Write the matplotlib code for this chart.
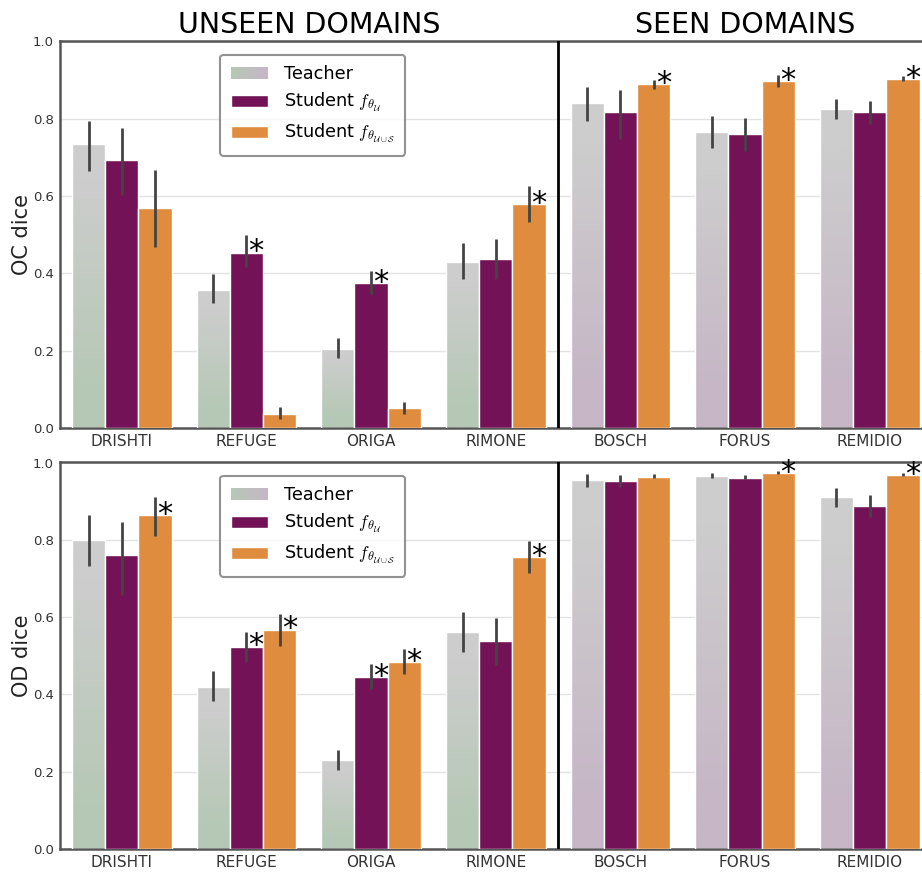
import numpy as np
import matplotlib
matplotlib.use("Agg")
import matplotlib.pyplot as plt
from matplotlib.patches import Rectangle
from matplotlib.legend_handler import HandlerBase
from matplotlib.colors import to_rgb

plt.rcParams['mathtext.fontset'] = 'cm'

categories = ["DRISHTI", "REFUGE", "ORIGA", "RIMONE", "BOSCH", "FORUS", "REMIDIO"]
n_unseen = 4
series = ["Teacher", r"Student $f_{\theta_{\mathcal{U}}}$", r"Student $f_{\theta_{\mathcal{U}\cup\mathcal{S}}}$"]

# OC dice
oc_teacher = [0.735, 0.358, 0.205, 0.430, 0.842, 0.766, 0.825]
oc_teacher_lo = [0.666, 0.323, 0.180, 0.386, 0.795, 0.725, 0.800]
oc_teacher_hi = [0.795, 0.398, 0.233, 0.479, 0.882, 0.808, 0.851]
oc_su = [0.693, 0.454, 0.374, 0.436, 0.818, 0.761, 0.817]
oc_su_lo = [0.602, 0.417, 0.346, 0.385, 0.749, 0.717, 0.787]
oc_su_hi = [0.777, 0.499, 0.406, 0.488, 0.874, 0.803, 0.846]
oc_sus = [0.568, 0.036, 0.051, 0.579, 0.889, 0.898, 0.903]
oc_sus_lo = [0.468, 0.022, 0.036, 0.534, 0.878, 0.883, 0.899]
oc_sus_hi = [0.667, 0.055, 0.068, 0.627, 0.901, 0.913, 0.912]
oc_star_su = [0, 1, 1, 0, 0, 0, 0]
oc_star_sus = [0, 0, 0, 1, 1, 1, 1]

# OD dice
od_teacher = [0.799, 0.420, 0.229, 0.561, 0.955, 0.966, 0.910]
od_teacher_lo = [0.731, 0.384, 0.204, 0.509, 0.936, 0.960, 0.885]
od_teacher_hi = [0.864, 0.461, 0.256, 0.614, 0.970, 0.974, 0.934]
od_su = [0.761, 0.523, 0.444, 0.538, 0.953, 0.960, 0.888]
od_su_lo = [0.657, 0.484, 0.413, 0.476, 0.936, 0.957, 0.860]
od_su_hi = [0.846, 0.562, 0.478, 0.598, 0.967, 0.968, 0.917]
od_sus = [0.864, 0.567, 0.484, 0.755, 0.963, 0.973, 0.968]
od_sus_lo = [0.810, 0.525, 0.453, 0.713, 0.960, 0.969, 0.964]
od_sus_hi = [0.910, 0.607, 0.517, 0.797, 0.970, 0.977, 0.973]
od_star_su = [0, 1, 1, 0, 0, 0, 0]
od_star_sus = [1, 1, 1, 1, 0, 1, 1]

PURPLE = "#731257"
ORANGE = "#E08C3E"
GREY = "#CDCDCD"
GREEN = "#B5C8B5"
PINK = "#C6B6C6"
ERR = "#444444"


def gradient_img(bottom, top, n=256):
    b = np.array(to_rgb(bottom)); t = np.array(to_rgb(top))
    s = np.linspace(0, 1, n)
    w = np.clip((s - 0.12) / 0.75, 0, 1)[:, None]
    img = b[None, :] * (1 - w) + t[None, :] * w
    return img[:, None, :]


class GradientHandler(HandlerBase):
    def create_artists(self, legend, orig_handle, xdescent, ydescent, width, height, fontsize, trans):
        arts = []
        n = 30
        c0 = np.array(to_rgb(GREEN)); c1 = np.array(to_rgb(PINK))
        for i in range(n):
            f = i / (n - 1)
            col = c0 * (1 - f) + c1 * f
            r = Rectangle((-xdescent + width * i / n, -ydescent), width / n * 1.05, height,
                          facecolor=col, edgecolor='none', transform=trans)
            arts.append(r)
        return arts


def draw_panel(ax, vals, los, his, stars, ylabel):
    x = np.arange(len(categories))
    w = 0.8 / 3
    offsets = [-w, 0, w]
    colors = [None, PURPLE, ORANGE]
    handles = []
    for k in range(3):
        v = np.array(vals[k]); lo = np.array(los[k]); hi = np.array(his[k])
        xs = x + offsets[k]
        if k == 0:
            bars = ax.bar(xs, v, width=w, color='none', edgecolor='white', linewidth=1, zorder=3)
            for i, b in enumerate(bars):
                bottom_col = GREEN if i < n_unseen else PINK
                img = ax.imshow(gradient_img(bottom_col, GREY), origin='lower', aspect='auto',
                                extent=(b.get_x(), b.get_x() + b.get_width(), 0, b.get_height()),
                                zorder=2, interpolation='bilinear')
                img.set_clip_path(b)
            handles.append(Rectangle((0, 0), 1, 1))
        else:
            bars = ax.bar(xs, v, width=w, color=colors[k], edgecolor='white', linewidth=1, zorder=3)
            handles.append(bars)
        ax.vlines(xs, lo, hi, color=ERR, linewidth=2, zorder=4)
        if k > 0:
            for i in range(len(categories)):
                if stars[k - 1][i]:
                    ax.annotate("*", (xs[i], v[i]), xytext=(7, -5.5), textcoords='offset points',
                                ha='center', va='baseline', fontsize=22, color='black', zorder=5)
    ax.set_xlim(-0.5, len(categories) - 0.5)
    ax.set_ylim(0, 1.0)
    ax.set_xticks(x)
    ax.set_xticklabels(categories, fontsize=11, color='#333333')
    ax.set_yticks([0, 0.2, 0.4, 0.6, 0.8, 1.0])
    ax.set_yticklabels(["0.0", "0.2", "0.4", "0.6", "0.8", "1.0"], fontsize=9.5, color='#333333')
    ax.tick_params(length=0, pad=4)
    ax.grid(axis='y', color='#e3e3e3', linewidth=1, zorder=0)
    ax.set_axisbelow(True)
    ax.set_ylabel(ylabel, fontsize=15, color='#222222', labelpad=1)
    for side in ['left', 'bottom', 'top']:
        ax.spines[side].set_color('#555555')
        ax.spines[side].set_linewidth(1.8)
    ax.spines['right'].set_visible(False)
    ax.axvline(n_unseen - 0.5, color='black', linewidth=2, zorder=6)
    leg = ax.legend(handles, series, loc='upper left', bbox_to_anchor=(0.184, 0.966),
                    borderaxespad=0,
                    fontsize=12.7, handlelength=2.1, handletextpad=0.9, labelspacing=0.45,
                    borderpad=0.6, frameon=True, fancybox=True,
                    handler_map={Rectangle: GradientHandler()})
    leg.get_frame().set_edgecolor('#777777')
    leg.get_frame().set_linewidth(1.5)
    leg.set_zorder(10)


fig = plt.figure(figsize=(9.22, 8.72), dpi=100)
W, H = 922, 872
axL, axR = 59.5, 932
ax1 = fig.add_axes([axL / W, (H - 428) / H, (axR - axL) / W, 386.5 / H])
ax2 = fig.add_axes([axL / W, (H - 849) / H, (axR - axL) / W, 386.5 / H])

draw_panel(ax1, [oc_teacher, oc_su, oc_sus], [oc_teacher_lo, oc_su_lo, oc_sus_lo],
           [oc_teacher_hi, oc_su_hi, oc_sus_hi], [oc_star_su, oc_star_sus], "OC dice")
draw_panel(ax2, [od_teacher, od_su, od_sus], [od_teacher_lo, od_su_lo, od_sus_lo],
           [od_teacher_hi, od_su_hi, od_sus_hi], [od_star_su, od_star_sus], "OD dice")

ax1.text((n_unseen - 0.5 - 0.5) / 2, 1.0207, "UNSEEN DOMAINS", transform=ax1.get_xaxis_transform(),
         ha='center', va='baseline', fontsize=20.5, color='black')
ax1.text((n_unseen - 0.5 + len(categories) - 0.5) / 2, 1.0207, "SEEN DOMAINS",
         transform=ax1.get_xaxis_transform(), ha='center', va='baseline', fontsize=20.5, color='black')

fig.savefig("out.png", dpi=100)
